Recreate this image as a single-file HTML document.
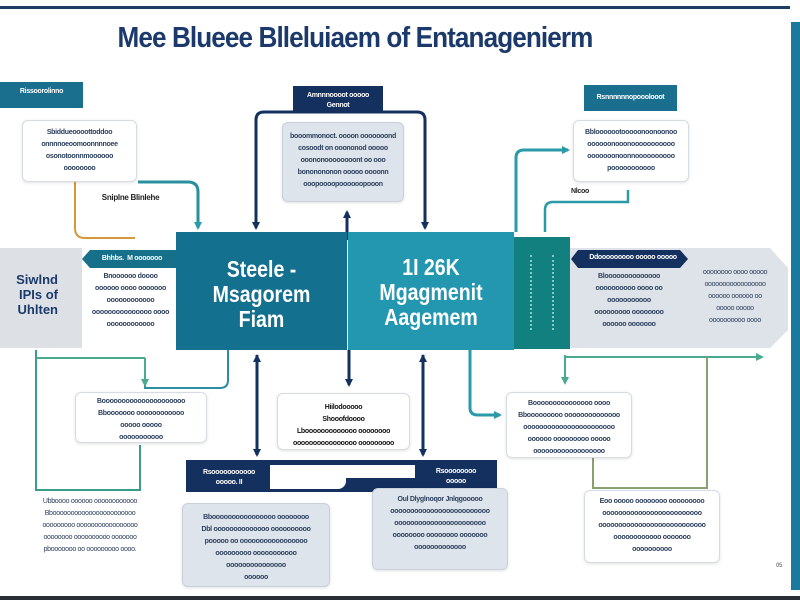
<!DOCTYPE html>
<html><head><meta charset="utf-8"><style>
*{margin:0;padding:0;box-sizing:border-box}
body{width:800px;height:600px;background:#fff;position:relative;overflow:hidden;font-family:"Liberation Sans",sans-serif}
.a{position:absolute}
.box{position:absolute;background:#fff;border:1px solid #d5dce3;border-radius:6px;box-shadow:0 1px 3px rgba(0,0,0,.12);text-align:center;font-size:7px;font-weight:bold;color:#2a3e5c;line-height:12px;letter-spacing:-.3px;padding-top:6px;overflow:hidden}
.g{background:#dde4eb;border-color:#c8d1da}
.lab{position:absolute;color:#fff;font-size:7px;font-weight:bold;text-align:center;line-height:10px;padding-top:5px;letter-spacing:-.3px}
.t{position:absolute;font-size:7px;font-weight:bold;color:#2a3e5c;text-align:center;line-height:12px;letter-spacing:-.3px}
.big{position:absolute;color:#fff;font-family:"Liberation Sans Narrow","Liberation Sans",sans-serif;font-size:23px;text-align:center;line-height:25px;transform:scaleX(.85)}
</style></head><body>
<div class="a" style="left:0;top:6px;width:790px;height:3px;background:#1d3d63"></div>
<div class="a" style="left:791px;top:22px;width:9px;height:568px;background:#1a7a9e"></div>
<div class="a" style="left:0;top:596px;width:800px;height:4px;background:#2a2f36"></div>
<div class="a" style="left:55px;top:22px;width:600px;text-align:center;font-size:29px;font-weight:bold;color:#1b3a6b;letter-spacing:-1px;transform:scaleX(.9)">Mee Blueee Blleluiaem of Entanagenierm</div>

<svg class="a" style="left:0;top:0" width="800" height="600">
<defs>
<marker id="mn" markerWidth="8" markerHeight="8" refX="6" refY="4" orient="auto" markerUnits="userSpaceOnUse"><path d="M0,0L8,4L0,8z" fill="#13305e"/></marker>
<marker id="mt" markerWidth="8" markerHeight="8" refX="6" refY="4" orient="auto" markerUnits="userSpaceOnUse"><path d="M0,0L8,4L0,8z" fill="#2a9aa8"/></marker>
<marker id="mg" markerWidth="8" markerHeight="8" refX="6" refY="4" orient="auto" markerUnits="userSpaceOnUse"><path d="M0,0L8,4L0,8z" fill="#4aaa90"/></marker>
</defs>
<g fill="none" stroke-width="3">
<path d="M75,182V228Q75,238 85,238H135" stroke="#d49a3a" stroke-width="2"/>
<path d="M138,182H188Q198,182 198,192V228" stroke="#2a8f9e" marker-end="url(#mt)"/>
<path d="M256,228V120Q256,112 264,112H417Q425,112 425,120V228" stroke="#13305e" marker-end="url(#mn)"/>
<path d="M256,150V228" stroke="#13305e" marker-end="url(#mn)"/>
<path d="M347,240V212" stroke="#13305e" marker-end="url(#mn)"/>
<path d="M516,232V158Q516,150 524,150H568" stroke="#2a9aa8" marker-end="url(#mt)"/>
<path d="M545,232V210Q545,202 553,202H628V190" stroke="#2a9aa8" stroke-width="2.5"/>
<path d="M257,355V455" stroke="#13305e" marker-end="url(#mn)"/>
<path d="M257,455V356" stroke="#13305e" marker-end="url(#mn)"/>
<path d="M423,355V455" stroke="#13305e" marker-end="url(#mn)"/>
<path d="M423,455V356" stroke="#13305e" marker-end="url(#mn)"/>
<path d="M349,350V385" stroke="#13305e" marker-end="url(#mn)"/>
<path d="M228,350V380Q228,388 220,388H145V385" stroke="#2a8f9e" stroke-width="2"/>
<path d="M36,350V490H140V445" stroke="#3a9c8a" stroke-width="2"/>
<path d="M145,358V385" stroke="#4aaa90" stroke-width="2" marker-end="url(#mg)"/>
<path d="M36,358H145" stroke="#4aaa90" stroke-width="2"/>
<path d="M470,350V408Q470,415 478,415H500" stroke="#2a9aa8" marker-end="url(#mt)"/>
<path d="M565,355V383" stroke="#4aaa90" stroke-width="2" marker-end="url(#mg)"/>
<path d="M565,357H762" stroke="#4aaa90" stroke-width="2" marker-end="url(#mg)"/>
<path d="M707,357V488H593V458" stroke="#8aa070" stroke-width="2"/>
</g>
</svg>

<div class="lab" style="left:0;top:82px;width:83px;height:26px;background:#1a6e8e">Rissoorolinno</div>
<div class="box" style="left:22px;top:120px;width:115px;height:62px">Sbiddueoooottoddoo<br>onnnnoeoomoonnnnoee<br>osonotoonnmoooooo<br>oooooooo</div>
<div class="t" style="left:88px;top:192px;width:85px;color:#222;font-size:8px">Sniplne Blinlehe</div>

<div class="lab" style="left:293px;top:86px;width:90px;height:25px;background:#13305e">Amnnnoooot ooooo<br>Gennot</div>
<div class="box g" style="left:282px;top:122px;width:122px;height:80px;padding-top:8px">booommonoct. oooon ooooooond<br>cosoodt on ooononod ooooo<br>ooononoooooooont oo ooo<br>bononononon ooooo oooonn<br>ooopoooopoooooopooon</div>

<div class="lab" style="left:584px;top:85px;width:93px;height:26px;background:#1a6e8e;padding-top:8px">Rsnnnnnnopooolooot</div>
<div class="box" style="left:573px;top:120px;width:116px;height:62px">Bblooooootooooonoonoonoo<br>oooooonooonooooooooooo<br>ooooooonoonnoooooooooo<br>pooooooooooo</div>
<div class="t" style="left:560px;top:186px;width:40px;color:#222">Nlcoo</div>

<div class="a" style="left:0;top:248px;width:82px;height:100px;background:#dde1e5"></div>
<div class="a" style="left:-2px;top:272px;width:60px;font-size:13px;font-weight:bold;color:#1b3a6b;line-height:15px;text-align:right">Siwlnd<br>IPIs of<br>Uhlten</div>
<svg class="a" style="left:82px;top:250px" width="95" height="18"><path d="M8,0H95V18H8L0,9z" fill="#16708a"/></svg>
<div class="t" style="left:92px;top:253px;width:80px;color:#fff">Bhhbs. &nbsp;M ooooooo</div>
<div class="t" style="left:88px;top:271px;width:85px">Bnoooooo doooo<br>oooooo oooo ooooooo<br>oooooooooooo<br>ooooooooooooooo oooo<br>oooooooooooo</div>

<div class="a" style="left:176px;top:232px;width:171px;height:118px;background:#13708f"></div>
<div class="a" style="left:348px;top:232px;width:166px;height:118px;background:#2497b0"></div>
<div class="big" style="left:176px;top:257px;width:171px;font-weight:bold">Steele -<br>Msagorem<br>Fiam</div>
<div class="big" style="left:348px;top:255px;width:166px;font-weight:bold">1I 26K<br>Mgagmenit<br>Aagemem</div>
<div class="a" style="left:514px;top:237px;width:56px;height:112px;background:#138080"></div>
<div class="a" style="left:530px;top:255px;width:24px;height:75px;border-left:2px dotted #cfe;border-right:2px dotted #cfe;opacity:.6"></div>
<svg class="a" style="left:570px;top:248px" width="220" height="102"><path d="M0,0H200L218,20V82L200,100H0z" fill="#dde3e8"/><path d="M8,2H110L118,11L110,20H8L1,11z" fill="#13305e"/></svg>
<div class="t" style="left:578px;top:252px;width:110px;color:#fff">Ddooooooooo ooooo ooooo</div>
<div class="t" style="left:585px;top:271px;width:88px">Bloooooooooooooo<br>oooooooooo oooo oo<br>ooooooooooo<br>ooooooooo oooooooo<br>oooooo ooooooo</div>
<div class="t" style="left:690px;top:267px;width:90px;font-weight:normal">oooooooo oooo ooooo<br>ooooooooooooooooo<br>oooooo oooooo oo<br>ooooo ooooo<br>oooooooooo oooo</div>

<div class="box" style="left:75px;top:392px;width:132px;height:51px;padding-top:3px">Booooooooooooooooooooo<br>Bbooooooo oooooooooooo<br>ooooo ooooo<br>ooooooooooo</div>
<div class="t" style="left:15px;top:496px;width:150px;font-weight:normal">Ubboooo oooooo oooooooooooo<br>Bbooooooooooooooooooooooo<br>ooooooooo ooooooooooooooooo<br>oooooooo oooooooooo ooooooo<br>pbooooooo oo ooooooooo oooo.</div>

<div class="box" style="left:277px;top:393px;width:133px;height:57px;padding-top:8px;color:#111">Hiilodooooo<br>Shooofdoooo<br>Lbooooooooooooo oooooooo<br>oooooooooooooooo ooooooooo</div>

<div class="a" style="left:186px;top:460px;width:311px;height:32px;background:#13305e"></div>
<div class="a" style="left:270px;top:465px;width:76px;height:24px;background:#fff;border-radius:0 0 8px 0"></div>
<div class="a" style="left:346px;top:465px;width:69px;height:13px;background:#fff"></div>
<div class="lab" style="left:190px;top:463px;width:78px">Rsooooooooooo<br>ooooo. II</div>
<div class="lab" style="left:418px;top:462px;width:76px">Rsoooooooo<br>ooooo</div>

<div class="box g" style="left:182px;top:503px;width:148px;height:84px;padding-top:8px">Bboooooooooooooooo oooooooo<br>Dbl oooooooooooooo oooooooooo<br>pooooo oo ooooooooooooooooo<br>ooooooooo ooooooooooo<br>ooooooooooooooo<br>oooooo</div>
<div class="box g" style="left:372px;top:488px;width:136px;height:82px;padding-top:5px">Oul Dlyglnoqor Jnlqgooooo<br>ooooooooooooooooooooooooo<br>ooooooooooooooooooooooo<br>oooooooo oooooooo ooooooo<br>ooooooooooooo</div>

<div class="box" style="left:506px;top:392px;width:126px;height:66px;padding-top:5px">Booooooooooooooo oooo<br>Bbooooooooo oooooooooooooo<br>ooooooooooooooooooooooo<br>oooooo ooooooooo ooooo<br>oooooooooooooooooo</div>
<div class="box" style="left:584px;top:490px;width:136px;height:73px;padding-top:5px">Eoo ooooo oooooooo ooooooooo<br>ooooooooooooooooooooooooo<br>ooooooooooooooooooooooooooo<br>oooooooooooo ooooooo<br>oooooooooo</div>
<div class="t" style="left:772px;top:560px;width:14px;font-size:6px;color:#888">05</div>
</body></html>
